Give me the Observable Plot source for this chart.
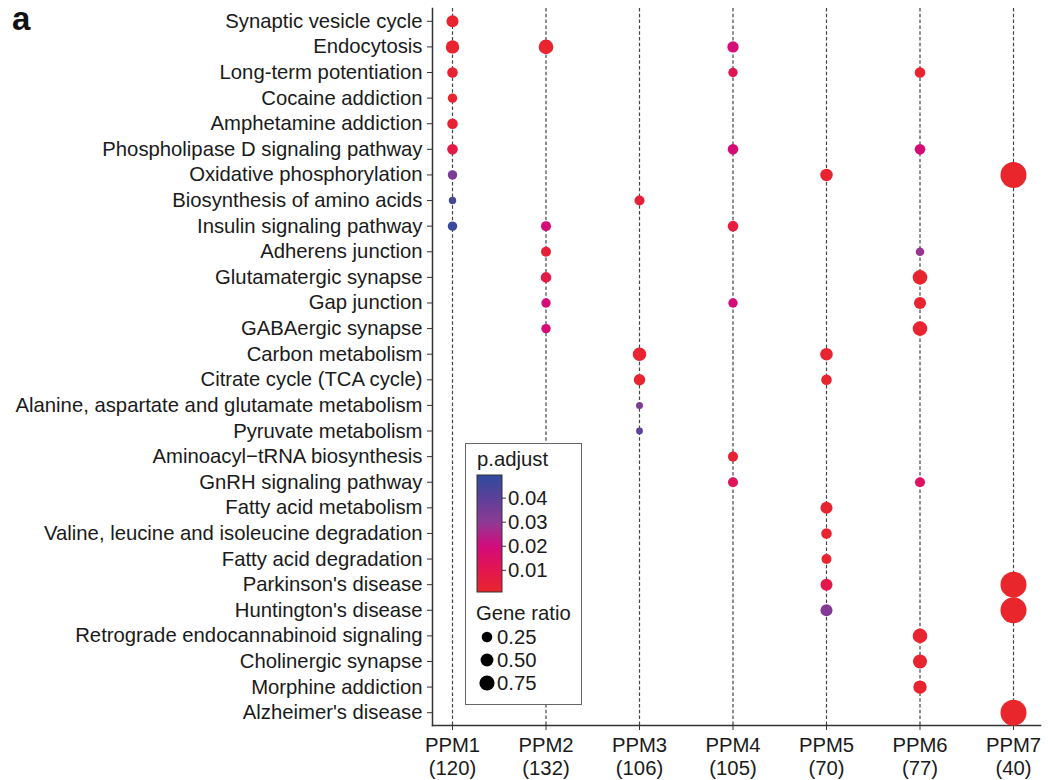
<!DOCTYPE html>
<html><head><meta charset="utf-8">
<script src="https://cdn.jsdelivr.net/npm/d3@7"></script>
<script src="https://cdn.jsdelivr.net/npm/@observablehq/plot@0.6"></script>
<style>
body{margin:0;background:#fff;font-family:"Liberation Sans",Arial,Helvetica,sans-serif;}
#wrap{position:relative;width:1048px;height:780px;overflow:hidden;}
#wrap svg{position:absolute;left:0;top:0;}
</style></head><body><div id="wrap"></div>
<script>
// ---------------- data ----------------
const pathways = [
  "Synaptic vesicle cycle","Endocytosis","Long-term potentiation","Cocaine addiction",
  "Amphetamine addiction","Phospholipase D signaling pathway","Oxidative phosphorylation",
  "Biosynthesis of amino acids","Insulin signaling pathway","Adherens junction",
  "Glutamatergic synapse","Gap junction","GABAergic synapse","Carbon metabolism",
  "Citrate cycle (TCA cycle)","Alanine, aspartate and glutamate metabolism","Pyruvate metabolism",
  "Aminoacyl\u2212tRNA biosynthesis","GnRH signaling pathway","Fatty acid metabolism",
  "Valine, leucine and isoleucine degradation","Fatty acid degradation","Parkinson's disease",
  "Huntington's disease","Retrograde endocannabinoid signaling","Cholinergic synapse",
  "Morphine addiction","Alzheimer's disease"
];
const modules = ["PPM1","PPM2","PPM3","PPM4","PPM5","PPM6","PPM7"];
const moduleSizes = [120,132,106,105,70,77,40];

// one entry per dot
const dotModule = [
  "PPM1","PPM1","PPM1","PPM1","PPM1","PPM1","PPM1","PPM1","PPM1",
  "PPM2","PPM2","PPM2","PPM2","PPM2","PPM2",
  "PPM3","PPM3","PPM3","PPM3","PPM3",
  "PPM4","PPM4","PPM4","PPM4","PPM4","PPM4","PPM4",
  "PPM5","PPM5","PPM5","PPM5","PPM5","PPM5","PPM5","PPM5",
  "PPM6","PPM6","PPM6","PPM6","PPM6","PPM6","PPM6","PPM6","PPM6","PPM6",
  "PPM7","PPM7","PPM7","PPM7"
];
const dotPathway = [
  "Synaptic vesicle cycle","Endocytosis","Long-term potentiation","Cocaine addiction","Amphetamine addiction","Phospholipase D signaling pathway","Oxidative phosphorylation","Biosynthesis of amino acids","Insulin signaling pathway",
  "Endocytosis","Insulin signaling pathway","Adherens junction","Glutamatergic synapse","Gap junction","GABAergic synapse",
  "Biosynthesis of amino acids","Carbon metabolism","Citrate cycle (TCA cycle)","Alanine, aspartate and glutamate metabolism","Pyruvate metabolism",
  "Endocytosis","Long-term potentiation","Phospholipase D signaling pathway","Insulin signaling pathway","Gap junction","Aminoacyl\u2212tRNA biosynthesis","GnRH signaling pathway",
  "Oxidative phosphorylation","Carbon metabolism","Citrate cycle (TCA cycle)","Fatty acid metabolism","Valine, leucine and isoleucine degradation","Fatty acid degradation","Parkinson's disease","Huntington's disease",
  "Long-term potentiation","Phospholipase D signaling pathway","Adherens junction","Glutamatergic synapse","Gap junction","GABAergic synapse","GnRH signaling pathway","Retrograde endocannabinoid signaling","Cholinergic synapse","Morphine addiction",
  "Oxidative phosphorylation","Parkinson's disease","Huntington's disease","Alzheimer's disease"
];
const dotGeneRatio = [
  0.184,0.229,0.143,0.113,0.143,0.143,0.113,0.070,0.113,
  0.272,0.128,0.128,0.143,0.113,0.113,
  0.128,0.229,0.166,0.0625,0.059,
  0.166,0.113,0.143,0.143,0.113,0.128,0.128,
  0.200,0.200,0.143,0.184,0.143,0.128,0.184,0.184,
  0.143,0.143,0.094,0.272,0.184,0.272,0.128,0.272,0.250,0.229,
  0.862,0.862,0.862,0.862
];
const dotPAdjust = [
  0.002,0.002,0.003,0.002,0.003,0.008,0.034,0.045,0.047,
  0.002,0.019,0.004,0.008,0.019,0.019,
  0.005,0.002,0.002,0.033,0.040,
  0.019,0.011,0.019,0.006,0.019,0.003,0.012,
  0.002,0.002,0.002,0.002,0.002,0.002,0.009,0.032,
  0.002,0.019,0.029,0.002,0.002,0.002,0.014,0.002,0.002,0.002,
  0.001,0.001,0.001,0.001
];
const colorStops = [0.001,0.01,0.02,0.03,0.04,0.0496];
const colorStopColors = ["#e8262b","#e3164f","#d30b7c","#8e3a95","#5c4099","#2e4b9e"];
const legendPTicks = [0.01,0.02,0.03,0.04];
const legendRatios = [0.25,0.50,0.75];

// ---------------- chart ----------------
const data = dotModule.map((m,i)=>({module:m, pathway:dotPathway[i], ratio:dotGeneRatio[i], padj:dotPAdjust[i]}));
const FONT = "Liberation Sans, Arial, Helvetica, sans-serif";
const FS = 20.3;

const chart = Plot.plot({
  width:1048, height:780,
  marginLeft:432, marginRight:8, marginTop:8, marginBottom:55,
  style:{fontFamily:FONT, fontSize:FS+"px", color:"#1a1a1a", background:"white"},
  x:{type:"point", domain:modules, padding:0, round:false, insetLeft:20, insetRight:27},
  y:{type:"point", domain:pathways, padding:0.5, round:false},
  r:{type:"sqrt", domain:[0,1], range:[0,14]},
  color:{type:"linear", domain:colorStops, range:colorStopColors, clamp:true},
  marks:[
    Plot.ruleX(modules, {x:d=>d, stroke:"#444", strokeWidth:1.2, strokeDasharray:"3.5,2.3"}),
    Plot.axisY({tickSize:5, tickPadding:5, label:null, stroke:"#333", fontSize:FS}),
    Plot.axisX({tickSize:5, tickPadding:5, label:null, stroke:"#333", fontSize:FS, lineHeight:1.14,
      tickFormat:d=>`${d}\n(${moduleSizes[modules.indexOf(d)]})`}),
    Plot.frame({anchor:"left", stroke:"#333", strokeWidth:1.5}),
    Plot.frame({anchor:"bottom", stroke:"#333", strokeWidth:1.5}),
    Plot.dot(data, {x:"module", y:"pathway", r:"ratio", fill:"padj"})
  ]
});
const wrap = document.getElementById("wrap");
wrap.appendChild(chart);

// ---------------- legend overlay ----------------
const colorScale = chart.scale("color");
const svg = d3.select(wrap).append("svg").attr("width",1048).attr("height",780)
  .style("font-family",FONT).style("font-size",FS+"px").style("pointer-events","none");

svg.append("text").attr("x",12).attr("y",30).attr("font-size",33).attr("font-weight","bold")
  .attr("fill","#111").text("a");

const lg = svg.append("g");
lg.append("rect").attr("x",465.5).attr("y",443.5).attr("width",116).attr("height",261)
  .attr("fill","white").attr("stroke","#666").attr("stroke-width",1);
lg.append("text").attr("x",477).attr("y",466).attr("fill","#1a1a1a").text("p.adjust");

const pMin = colorStops[0], pMax = colorStops[colorStops.length-1];
const barTop = 475, barBot = 592, barX = 477, barW = 25;
const pY = v => barBot - (v - pMin)/(pMax - pMin)*(barBot - barTop);
const grad = svg.append("defs").append("linearGradient").attr("id","pgrad")
  .attr("x1",0).attr("y1",1).attr("x2",0).attr("y2",0);
d3.range(0,1.0001,0.02).forEach(t=>{
  const v = pMin + t*(pMax-pMin);
  grad.append("stop").attr("offset",t).attr("stop-color",colorScale.apply(v));
});
lg.append("rect").attr("x",barX).attr("y",barTop).attr("width",barW).attr("height",barBot-barTop)
  .attr("fill","url(#pgrad)").attr("stroke","#333").attr("stroke-width",1);
legendPTicks.forEach(v=>{
  const y = pY(v);
  lg.append("line").attr("x1",barX+barW).attr("x2",barX+barW+4).attr("y1",y).attr("y2",y).attr("stroke","#333");
  lg.append("text").attr("x",508).attr("y",y).attr("dy","0.35em").attr("fill","#1a1a1a").text(v.toFixed(2));
});
lg.append("text").attr("x",476).attr("y",620).attr("fill","#1a1a1a").text("Gene ratio");
const legR = d3.scaleLinear([0.25,0.75],[5.3,7.6]);
legendRatios.forEach((v,i)=>{
  const y = 637 + i*23;
  lg.append("circle").attr("cx",487).attr("cy",y).attr("r",legR(v)).attr("fill","#000");
  lg.append("text").attr("x",497).attr("y",y).attr("dy","0.35em").attr("fill","#1a1a1a").text(v.toFixed(2));
});
</script></body></html>
